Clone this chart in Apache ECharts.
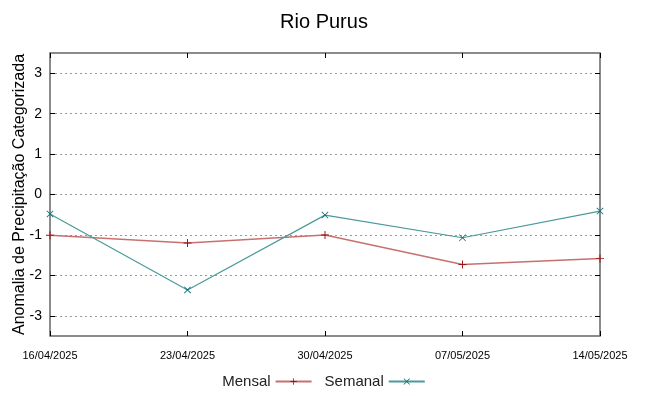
<!DOCTYPE html>
<html><head><meta charset="utf-8">
<script src="https://cdn.jsdelivr.net/npm/echarts@6/dist/echarts.min.js"></script>
<style>html,body{margin:0;padding:0;background:#fff}#c{width:648px;height:396px}</style>
</head><body><div id="c"></div>
<script>
const title = 'Rio Purus';
const yName = 'Anomalia de Precipitação Categorizada';
const categories = ['16/04/2025','23/04/2025','30/04/2025','07/05/2025','14/05/2025'];
const mensal = [-1.01, -1.20, -1.00, -1.73, -1.58];
const semanal = [-0.48, -2.36, -0.51, -1.07, -0.41];
const yTicks = [-3,-2,-1,0,1,2,3];

const narrow = "'Liberation Sans Narrow', 'Liberation Sans', sans-serif";
const sans = "'Liberation Sans', Arial, sans-serif";
const plusPath = 'path://M4.4,0H5.6V4.4H10V5.6H5.6V10H4.4V5.6H0V4.4H4.4Z';
const xPath = 'path://M0,0.8L0.8,0L5,4.2L9.2,0L10,0.8L5.8,5L10,9.2L9.2,10L5,5.8L0.8,10L0,9.2L4.2,5Z';

const chart = echarts.init(document.getElementById('c'));
const yBase = {
  type:'value', min:-3.5, max:3.5,
  axisLine:{show:false, onZero:false},
  axisTick:{show:true, inside:true, length:5, customValues:yTicks, lineStyle:{color:'#000'}},
  splitLine:{show:false}
};
const xBase = {
  type:'category', data:categories, boundaryGap:false,
  axisLine:{show:false, onZero:false},
  axisTick:{show:true, inside:true, length:5, lineStyle:{color:'#000'}},
  splitLine:{show:false}
};
chart.setOption({
  animation:false,
  title:{text:title, left:'center', top:7, textStyle:{fontFamily:narrow, fontWeight:'normal', fontSize:20, color:'#000'}},
  grid:{left:50, right:48, top:53, bottom:60, show:true, borderColor:'#666', borderWidth:1.5, containLabel:false, outerBoundsMode:'none'},
  legend:{
    bottom:2, left:'center', align:'right', itemWidth:36, itemHeight:8, itemGap:12,
    textStyle:{fontFamily:narrow, fontSize:15, color:'#222'},
    data:['Mensal','Semanal']
  },
  xAxis:[Object.assign({}, xBase, {
    axisLabel:{fontFamily:narrow, fontSize:11, color:'#000', margin:14, showMinLabel:true, showMaxLabel:true, interval:0}
  }), Object.assign({}, xBase, {position:'top', axisLabel:{show:false}})],
  yAxis:[Object.assign({}, yBase, {
    name:yName, nameLocation:'middle', nameGap:22, nameRotate:90, nameMoveOverlap:false,
    nameTextStyle:{fontFamily:sans, fontSize:16, color:'#000'},
    axisLabel:{customValues:yTicks, fontFamily:sans, fontSize:14, color:'#000', margin:8, hideOverlap:false},
    splitLine:{show:true, lineStyle:{color:'#999', type:[2,3], width:1}}
  }), Object.assign({}, yBase, {position:'right', axisLabel:{show:false}})],
  series:[{
    name:'Mensal', type:'line', data:mensal, symbol:plusPath, symbolSize:8,
    itemStyle:{color:'#a01010'}, lineStyle:{color:'#c87070', width:1.5}
  },{
    name:'Semanal', type:'line', data:semanal, symbol:xPath, symbolSize:7,
    itemStyle:{color:'#0a7070'}, lineStyle:{color:'#4a9a9a', width:1.2}
  }]
});
</script></body></html>
